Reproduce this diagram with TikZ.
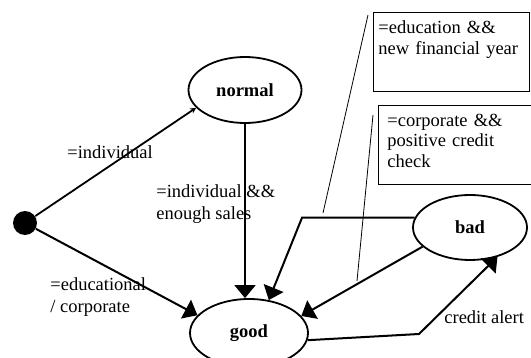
\documentclass[tikz,border=0pt]{standalone}
\usepackage{fontspec}
\setmainfont{Liberation Serif}
\usetikzlibrary{arrows.meta,shapes.geometric}

\tikzset{every picture/.style={line width=0.75pt}}
\tikzset{
  state/.style={draw, ellipse, line width=1.8pt, inner sep=0pt, font=\fontsize{18.5}{21}\selectfont\bfseries},
  trans/.style={line width=2pt, -{Triangle[length=13pt,width=21pt]}},
  thintrans/.style={line width=1.8pt, -{Stealth[length=6pt,width=6pt]}},
  lbl/.style={anchor=west, align=left, inner sep=0pt, font=\fontsize{18.5}{22}\selectfont},
  notebox/.style={draw, line width=0.8pt, anchor=north west, align=left, inner ysep=8.7pt, text depth=49pt, font=\fontsize{18.5}{20.5}\selectfont},
  leader/.style={line width=0.8pt}
}

\begin{document}
\begin{tikzpicture}[x=1pt,y=1pt,yscale=-1,xscale=1]
	\useasboundingbox (0,0) rectangle (531,358);

	%States
	\node [circle, fill, minimum size=24pt, inner sep=0pt] (start) at (25,223) {};
	\node [state, minimum width=113pt, minimum height=66pt] (normal) at (245,90) {normal};
	\node [state, minimum width=118pt, minimum height=68pt] (good) at (249,333) {good};
	\node [state, minimum width=114pt, minimum height=65pt] (bad) at (470,227.5) {bad};

	%Notes
	\node [notebox, inner xsep=5pt, text width=146pt] (noteEdu) at (373,12) {=education \&\&\\new financial year};
	\node [notebox, inner xsep=9pt, text width=150pt] (noteCorp) at (378,105) {=corporate \&\&\\positive credit\\check};

	%Bends
	\coordinate (kinkA) at (302,218);
	\coordinate (kinkB) at (419,334);
	%Leader ends
	\coordinate (leadA1) at (368,15);
	\coordinate (leadA2) at (323,213);
	\coordinate (leadB1) at (373,115);
	\coordinate (leadB2) at (357,281);

	%Transitions
	\draw [thintrans] (start) -- (normal.200);
	\draw [trans] (start) -- (good.161);
	\draw [trans] (normal.south) -- (normal.south |- good.north);
	\draw [trans] (bad.170) -- (bad.170 -| kinkA) -- (good.59);
	\draw [trans] (bad.202) -- (good.18);
	\draw [trans] (good.353) -- (kinkB) -- (bad.313);

	%Leader lines
	\draw [leader] (leadA1) -- (leadA2);
	\draw [leader] (leadB1) -- (leadB2);

	% Text Node
	\node [lbl] (lblInd) at (67,152) {=individual};
	% Text Node
	\node [lbl] (lblSales) at (156,204) {=individual \&\&\\enough sales};
	% Text Node
	\node [lbl] (lblEdu) at (50,297) {=educational\\/ corporate};
	% Text Node
	\node [lbl] (lblAlert) at (444,317) {credit alert};

\end{tikzpicture}
\end{document}
